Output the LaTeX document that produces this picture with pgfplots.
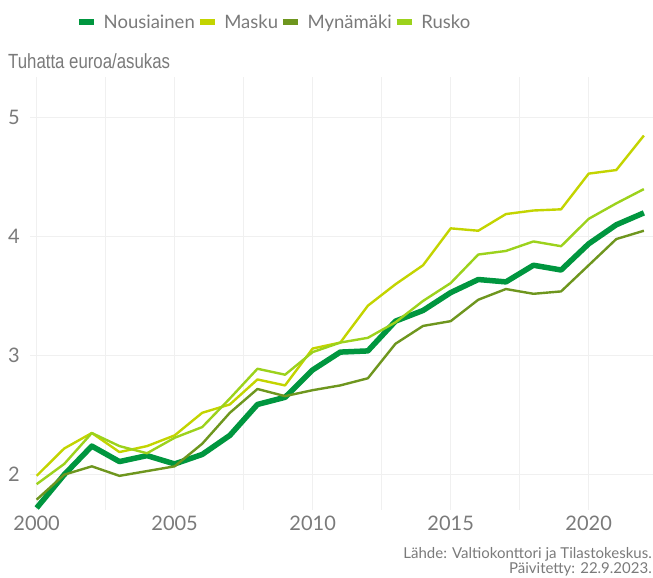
\documentclass[border=0pt]{standalone}
\usepackage{fontspec}
\setmainfont{Lato}
\newfontfamily\arialf{Liberation Sans}
\usepackage{pgfplots}
\pgfplotsset{compat=1.18}
\definecolor{cN}{HTML}{00963F}
\definecolor{cM}{HTML}{C3D400}
\definecolor{cY}{HTML}{6E961E}
\definecolor{cR}{HTML}{9CD21C}
\definecolor{txt}{HTML}{7A7A7A}
\definecolor{gridc}{HTML}{F0F0F0}
\begin{document}
\begin{tikzpicture}
\useasboundingbox (0pt,0pt) rectangle (653pt,578pt);
\begin{axis}[at={(30pt,68pt)}, anchor=south west, scale only axis,
  width=623pt, height=433pt,
  xmin=1999.76, xmax=2022.33, ymin=1.703, ymax=5.342,
  axis line style={draw=none}, major tick length=0pt, minor tick length=0pt,
  xtick={2000,2005,2010,2015,2020},
  minor xtick={2002.5,2007.5,2012.5,2017.5},
  ytick={2,3,4,5},
  xmajorgrids, xminorgrids, ymajorgrids,
  major grid style={color=gridc, line width=1.4pt},
  minor grid style={color=gridc, line width=1.4pt},
  /pgf/number format/assume math mode=true,
  xticklabel={\pgfmathprintnumber[1000 sep={}]{\tick}},
  ticklabel style={font=\fontsize{20}{20}\selectfont, text=txt},
  xticklabel style={inner sep=0pt, yshift=-6pt},
  yticklabel style={inner sep=0pt, xshift=-10pt},
  legend style={at={(axis description cs:0.392,1.127)}, anchor=center, draw=none, fill=none,
    legend columns=4, font=\fontsize{18.5}{18.5}\selectfont, text=txt,
    /tikz/every odd column/.append style={column sep=5pt}},
  legend image code/.code={\draw[#1, line width=5.5pt] (0pt,0pt) -- (15pt,0pt);},
]
\addplot[cN, line width=5.5pt, line join=round] coordinates {
(2000,1.72)(2001,2.00)(2002,2.24)(2003,2.11)(2004,2.16)(2005,2.09)(2006,2.17)(2007,2.33)(2008,2.59)(2009,2.65)(2010,2.88)(2011,3.03)(2012,3.04)(2013,3.29)(2014,3.38)(2015,3.53)(2016,3.64)(2017,3.62)(2018,3.76)(2019,3.72)(2020,3.94)(2021,4.10)(2022,4.20)};
\addlegendentry{Nousiainen}
\addplot[cM, line width=2.4pt, line join=round] coordinates {
(2000,1.99)(2001,2.22)(2002,2.35)(2003,2.19)(2004,2.24)(2005,2.33)(2006,2.52)(2007,2.59)(2008,2.80)(2009,2.75)(2010,3.06)(2011,3.11)(2012,3.42)(2013,3.60)(2014,3.76)(2015,4.07)(2016,4.05)(2017,4.19)(2018,4.22)(2019,4.23)(2020,4.53)(2021,4.56)(2022,4.85)};
\addlegendentry{Masku}
\addplot[cY, line width=2.4pt, line join=round] coordinates {
(2000,1.79)(2001,2.00)(2002,2.07)(2003,1.99)(2004,2.03)(2005,2.07)(2006,2.26)(2007,2.52)(2008,2.72)(2009,2.66)(2010,2.71)(2011,2.75)(2012,2.81)(2013,3.10)(2014,3.25)(2015,3.29)(2016,3.47)(2017,3.56)(2018,3.52)(2019,3.54)(2020,3.76)(2021,3.98)(2022,4.05)};
\addlegendentry{Mynämäki}
\addplot[cR, line width=2.4pt, line join=round] coordinates {
(2000,1.92)(2001,2.09)(2002,2.35)(2003,2.24)(2004,2.18)(2005,2.31)(2006,2.40)(2007,2.64)(2008,2.89)(2009,2.84)(2010,3.03)(2011,3.11)(2012,3.15)(2013,3.28)(2014,3.46)(2015,3.61)(2016,3.85)(2017,3.88)(2018,3.96)(2019,3.92)(2020,4.15)(2021,4.28)(2022,4.40)};
\addlegendentry{Rusko}
\end{axis}
\node[anchor=base west, inner sep=0pt, font=\arialf\fontsize{20.5}{20.5}\selectfont, text=txt, xscale=0.82] at (8pt,509pt) {Tuhatta euroa/asukas};
\node[anchor=base east, inner sep=0pt, font=\fontsize{15}{15}\selectfont, text=txt] at (652pt,19pt) {Lähde: Valtiokonttori ja Tilastokeskus.};
\node[anchor=base east, inner sep=0pt, font=\fontsize{15}{15}\selectfont, text=txt] at (652pt,4.5pt) {Päivitetty: 22.9.2023.};
\end{tikzpicture}
\end{document}
